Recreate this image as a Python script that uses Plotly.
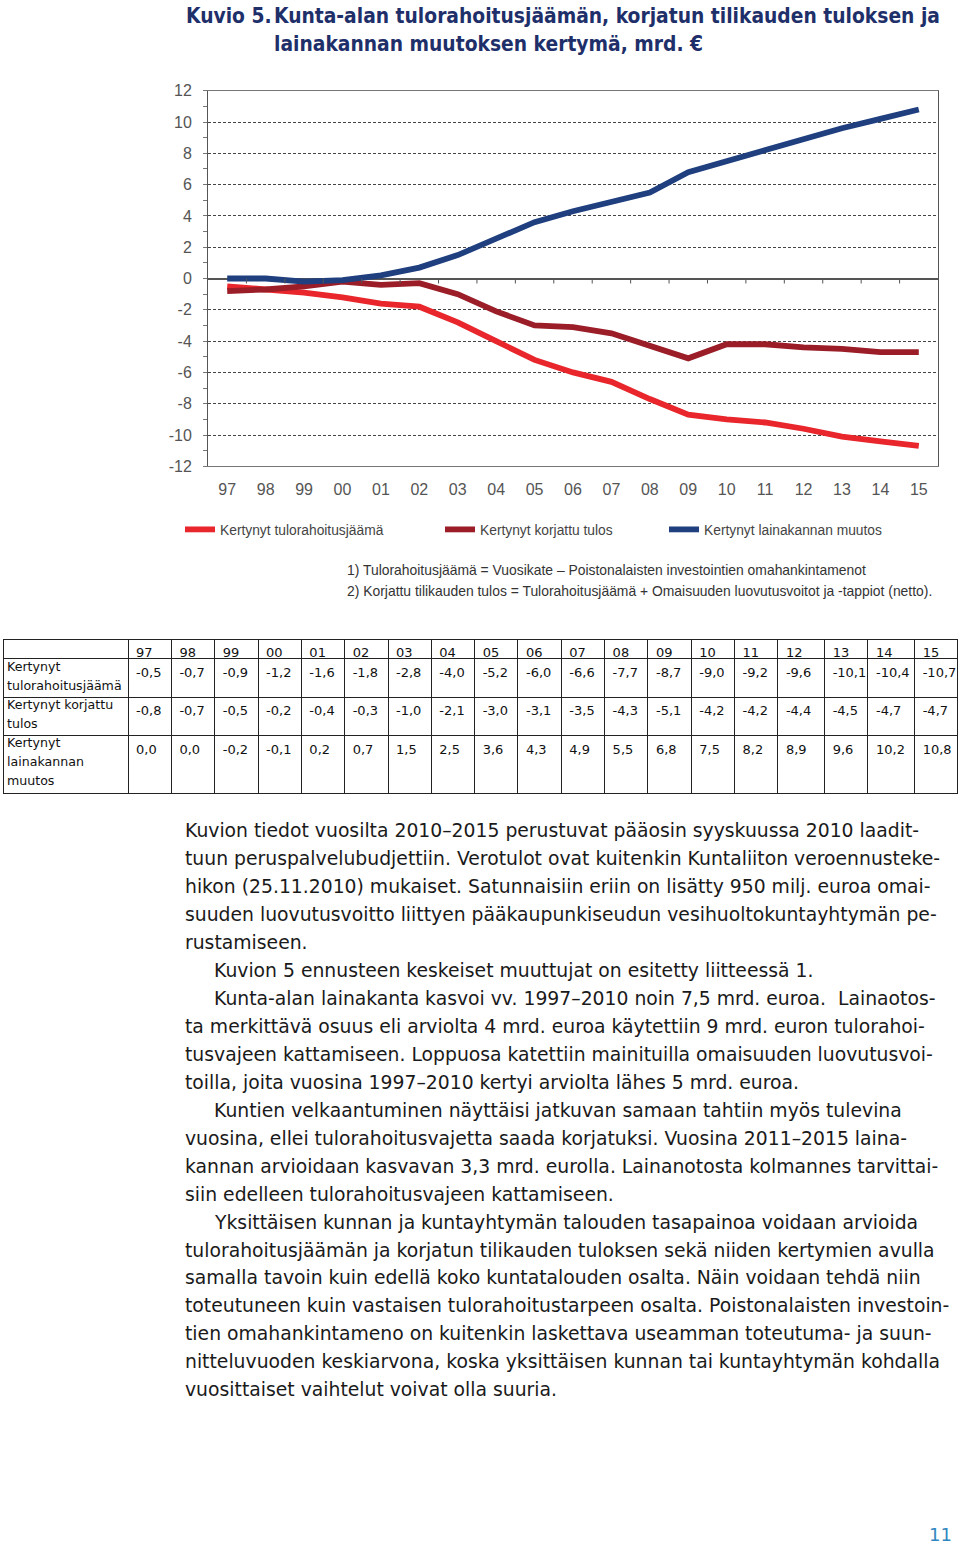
import plotly.graph_objects as go

W, H = 960, 1553

years = ["97", "98", "99", "00", "01", "02", "03", "04", "05", "06",
         "07", "08", "09", "10", "11", "12", "13", "14", "15"]
tulorahoitusjaama = [-0.5, -0.7, -0.9, -1.2, -1.6, -1.8, -2.8, -4.0, -5.2, -6.0,
                     -6.6, -7.7, -8.7, -9.0, -9.2, -9.6, -10.1, -10.4, -10.7]
korjattu_tulos = [-0.8, -0.7, -0.5, -0.2, -0.4, -0.3, -1.0, -2.1, -3.0, -3.1,
                  -3.5, -4.3, -5.1, -4.2, -4.2, -4.4, -4.5, -4.7, -4.7]
lainakannan_muutos = [0.0, 0.0, -0.2, -0.1, 0.2, 0.7, 1.5, 2.5, 3.6, 4.3,
                      4.9, 5.5, 6.8, 7.5, 8.2, 8.9, 9.6, 10.2, 10.8]
series_names = ["Kertynyt tulorahoitusjäämä", "Kertynyt korjattu tulos",
                "Kertynyt lainakannan muutos"]
row_label_lines = [["Kertynyt", "tulorahoitusjäämä"], ["Kertynyt korjattu", "tulos"],
                   ["Kertynyt", "lainakannan", "muutos"]]
series_colors = ["#e8262b", "#9b1d27", "#1f3f7f"]
y_ticks = [12, 10, 8, 6, 4, 2, 0, -2, -4, -6, -8, -10, -12]

title_lines = ["Kunta-alan tulorahoitusjäämän, korjatun tilikauden tuloksen ja",
               "lainakannan muutoksen kertymä, mrd. €"]
footnotes = ["1) Tulorahoitusjäämä = Vuosikate – Poistonalaisten investointien omahankintamenot",
             "2) Korjattu tilikauden tulos = Tulorahoitusjäämä + Omaisuuden luovutusvoitot ja -tappiot (netto)."]
body_lines = [
    (0, "Kuvion tiedot vuosilta 2010–2015 perustuvat pääosin syyskuussa 2010 laadit-"),
    (0, "tuun peruspalvelubudjettiin. Verotulot ovat kuitenkin Kuntaliiton veroennusteke-"),
    (0, "hikon (25.11.2010) mukaiset. Satunnaisiin eriin on lisätty 950 milj. euroa omai-"),
    (0, "suuden luovutusvoitto liittyen pääkaupunkiseudun vesihuoltokuntayhtymän pe-"),
    (0, "rustamiseen."),
    (1, "Kuvion 5 ennusteen keskeiset muuttujat on esitetty liitteessä 1."),
    (1, "Kunta-alan lainakanta kasvoi vv. 1997–2010 noin 7,5 mrd. euroa.  Lainaotos-"),
    (0, "ta merkittävä osuus eli arviolta 4 mrd. euroa käytettiin 9 mrd. euron tulorahoi-"),
    (0, "tusvajeen kattamiseen. Loppuosa katettiin mainituilla omaisuuden luovutusvoi-"),
    (0, "toilla, joita vuosina 1997–2010 kertyi arviolta lähes 5 mrd. euroa."),
    (1, "Kuntien velkaantuminen näyttäisi jatkuvan samaan tahtiin myös tulevina"),
    (0, "vuosina, ellei tulorahoitusvajetta saada korjatuksi. Vuosina 2011–2015 laina-"),
    (0, "kannan arvioidaan kasvavan 3,3 mrd. eurolla. Lainanotosta kolmannes tarvittai-"),
    (0, "siin edelleen tulorahoitusvajeen kattamiseen."),
    (1, "Yksittäisen kunnan ja kuntayhtymän talouden tasapainoa voidaan arvioida"),
    (0, "tulorahoitusjäämän ja korjatun tilikauden tuloksen sekä niiden kertymien avulla"),
    (0, "samalla tavoin kuin edellä koko kuntatalouden osalta. Näin voidaan tehdä niin"),
    (0, "toteutuneen kuin vastaisen tulorahoitustarpeen osalta. Poistonalaisten investoin-"),
    (0, "tien omahankintameno on kuitenkin laskettava useamman toteutuma- ja suun-"),
    (0, "nitteluvuoden keskiarvona, koska yksittäisen kunnan tai kuntayhtymän kohdalla"),
    (0, "vuosittaiset vaihtelut voivat olla suuria."),
]

NARROW = "Liberation Sans, Arial, sans-serif"
VERD = "DejaVu Sans, Verdana, sans-serif"

# the captured page comes out slightly compressed vertically; compensate
VS, VOFF = 0.9875, 9.4


def px_x(p):
    return p / W


def fy(p):
    return (p - VOFF) / VS


def px_y(p):
    return 1 - fy(p) / H


fig = go.Figure()

all_series = [tulorahoitusjaama, korjattu_tulos, lainakannan_muutos]
legend_ids = ["legend", "legend2", "legend3"]
for name, vals, col, lg in zip(series_names, all_series, series_colors, legend_ids):
    fig.add_trace(go.Scatter(x=years, y=vals, mode="lines", name=name,
                             line=dict(color=col, width=5.8),
                             legend=lg, xaxis="x", yaxis="y"))


def fmt(v):
    return f"{v:.1f}".replace(".", ",")

# first column holds spacer text only (labels are drawn as annotations);
# the three-line spacer makes the last row taller, as in the original
first_col = ["", "", "&nbsp;<br>&nbsp;<br>&nbsp;"]
cols = [first_col] + [[fmt(a), fmt(b), fmt(c)] for a, b, c in
                      zip(tulorahoitusjaama, korjattu_tulos, lainakannan_muutos)]
colwidths = [125] + [46.7 if y in ("12", "14") else 43.3 for y in years]
fig.add_trace(go.Table(
    domain=dict(x=[px_x(3), px_x(958)], y=[px_y(800), px_y(640)]),
    columnwidth=colwidths,
    header=dict(values=[""] + years, align="left", height=19 / VS,
                line=dict(color="#222", width=1), fill=dict(color="white"),
                font=dict(family=VERD, size=13, color="#111")),
    cells=dict(values=cols, align="left", height=38 / VS,
               line=dict(color="#222", width=1), fill=dict(color="white"),
               font=dict(family=VERD, size=[11] + [13] * len(years), color="#111")),
))

shapes = []
for i in range(len(years) - 1):
    shapes.append(dict(type="line", xref="x", yref="y", x0=i + 0.5, x1=i + 0.5,
                       ysizemode="pixel", yanchor=0, y0=0, y1=-5,
                       line=dict(color="#555", width=1)))

annotations = []
TFONT = dict(family="DejaVu Sans Condensed, sans-serif", size=20.8, color="#1e2f6a")
annotations.append(dict(text="<b>Kuvio 5.</b>", x=px_x(184), y=px_y(17), xref="paper", yref="paper",
                        xanchor="left", yanchor="middle", showarrow=False, font=TFONT))
for i, t in enumerate(title_lines):
    annotations.append(dict(text=f"<b>{t}</b>", x=px_x(272), y=px_y(17 + 28 * i), xref="paper", yref="paper",
                            xanchor="left", yanchor="middle", showarrow=False, font=TFONT))
for i, t in enumerate(footnotes):
    annotations.append(dict(text=t, x=px_x(345), y=px_y(571 + 20 * i), xref="paper", yref="paper",
                            xanchor="left", yanchor="middle", showarrow=False,
                            font=dict(family=NARROW, size=13.9, color="#333")))
label_y = [[667, 686], [705, 724], [743, 762, 781]]
for lines, ys in zip(row_label_lines, label_y):
    for t, yy in zip(lines, ys):
        annotations.append(dict(text=t, x=px_x(5), y=px_y(yy), xref="paper", yref="paper",
                                xanchor="left", yanchor="middle", showarrow=False,
                                font=dict(family=VERD, size=12.6, color="#111")))
for i, (ind, t) in enumerate(body_lines):
    annotations.append(dict(text=t, x=px_x(212 if ind else 183), y=px_y(831 + 27.9 * i),
                            xref="paper", yref="paper", xanchor="left", yanchor="middle",
                            showarrow=False, font=dict(family=VERD, size=18.8, color="#1a1a1a")))
annotations.append(dict(text="11", x=px_x(940), y=px_y(1534), xref="paper", yref="paper",
                        xanchor="center", yanchor="middle", showarrow=False,
                        font=dict(family=VERD, size=18, color="#2f86c0")))

legend_x = [180, 440, 664]
legends = {}
for lg, lx in zip(legend_ids, legend_x):
    legends[lg] = dict(x=px_x(lx), y=px_y(530), xanchor="left", yanchor="middle",
                       orientation="h", bgcolor="rgba(0,0,0,0)", itemwidth=30,
                       font=dict(family=NARROW, size=13.8, color="#444"))

fig.update_layout(
    width=W, height=H, autosize=False,
    margin=dict(l=0, r=0, t=0, b=0),
    paper_bgcolor="white", plot_bgcolor="white",
    showlegend=True,
    xaxis=dict(domain=[px_x(208), px_x(938)], type="category", range=[-0.5, len(years) - 0.5],
               showline=True, linecolor="#777", linewidth=1, mirror=True,
               showgrid=False, ticks="", ticklabelstandoff=8,
               tickfont=dict(family=NARROW, size=16, color="#555")),
    yaxis=dict(domain=[px_y(467), px_y(92)], range=[-12, 12], tickvals=y_ticks,
               ticktext=[str(v) for v in y_ticks],
               showline=True, linecolor="#555", linewidth=1, mirror=True,
               showgrid=True, gridcolor="#444", gridwidth=1, griddash="3px,2px",
               zeroline=True, zerolinecolor="#555", zerolinewidth=1.5,
               ticks="outside", ticklen=4, tickcolor="#777", ticklabelstandoff=8,
               minor=dict(dtick=1, ticks="outside", ticklen=4, tickcolor="#777", showgrid=False),
               tickfont=dict(family=NARROW, size=16, color="#555")),
    shapes=shapes,
    annotations=annotations,
    **legends,
)

fig.write_html("out.html")
